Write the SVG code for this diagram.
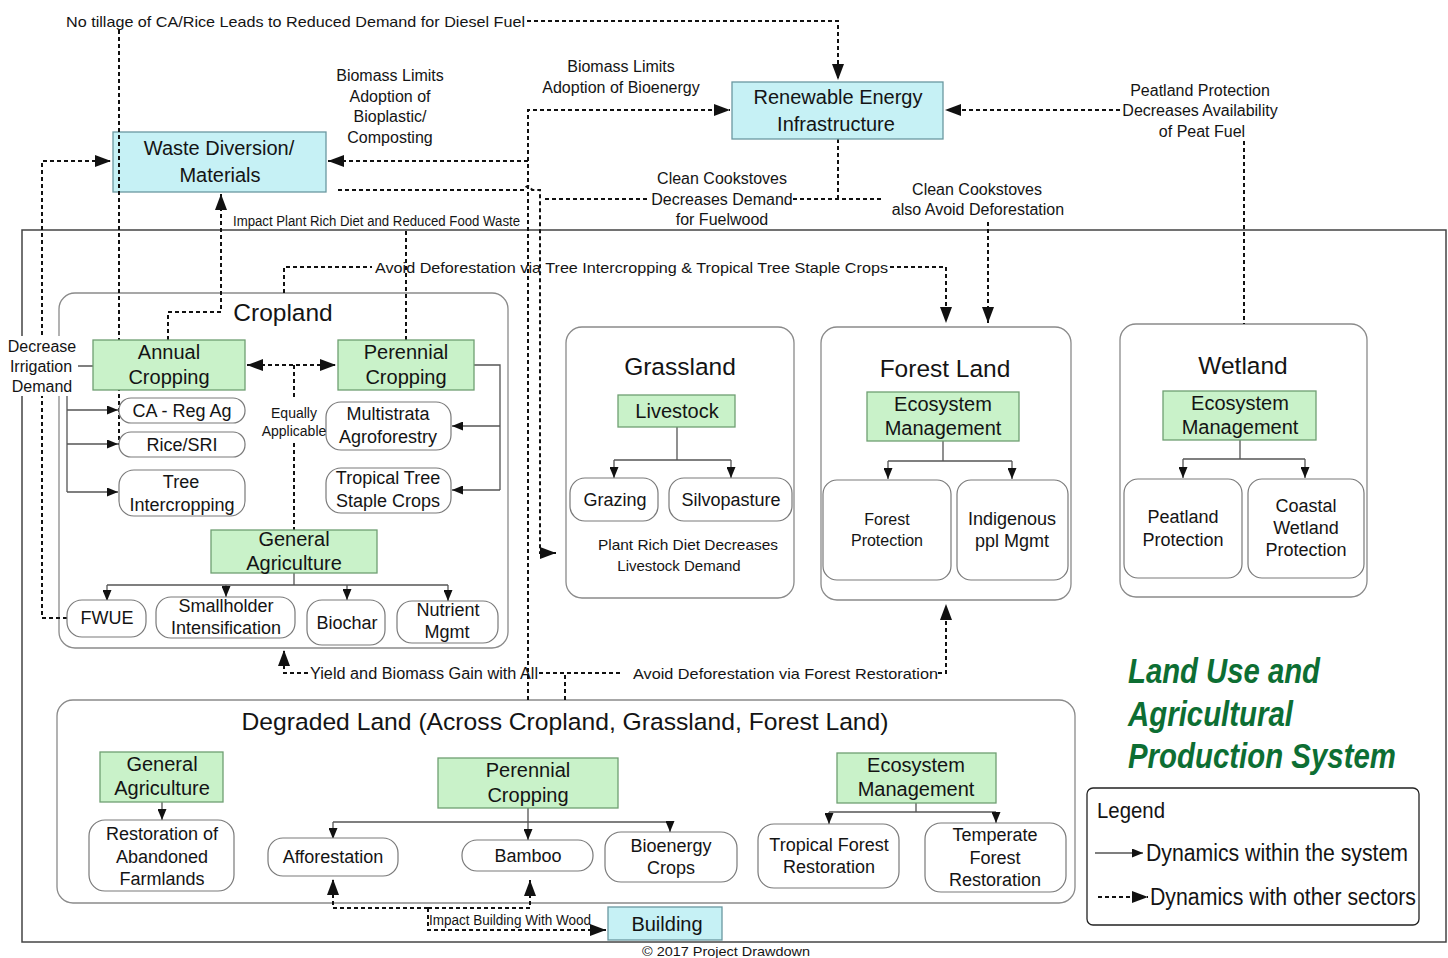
<svg xmlns="http://www.w3.org/2000/svg" width="1448" height="958" viewBox="0 0 1448 958">
<defs>
<style>
text{font-family:"Liberation Sans",Arial,sans-serif;fill:#141414;text-anchor:middle;dominant-baseline:central}
.l{text-anchor:start}
.dash{fill:none;stroke:#111;stroke-width:2;stroke-dasharray:4 3}
.solid{fill:none;stroke:#555;stroke-width:1.3}
.region{fill:none;stroke:#8a8a8a;stroke-width:1.3}
.pill{fill:#fff;stroke:#7a7a7a;stroke-width:1.2}
.green{fill:#c9f2c9;stroke:#6f9f72;stroke-width:1.3}
.cyan{fill:#c6f1f5;stroke:#6a98a0;stroke-width:1.3}
.t24{font-size:24.5px}
.t20{font-size:20px}
.t18{font-size:18px}
.t16{font-size:16px}
.t15{font-size:15px}
.t14{font-size:14px}
.title{font-size:35px;font-weight:bold;font-style:italic;fill:#0d6e33}
</style>
<marker id="ah" viewBox="0 0 16 12" refX="16" refY="6" markerWidth="16" markerHeight="12" orient="auto-start-reverse" markerUnits="userSpaceOnUse"><path d="M0,0 L16,6 L0,12 z" fill="#111"/></marker>
<marker id="as" viewBox="0 0 11 9" refX="11" refY="4.5" markerWidth="11" markerHeight="9" orient="auto" markerUnits="userSpaceOnUse"><path d="M0,0 L11,4.5 L0,9 z" fill="#111"/></marker>
</defs>
<rect width="1448" height="958" fill="#fff"/>

<!-- system boundary -->
<rect id="system-frame" x="22" y="230" width="1424" height="712" fill="none" stroke="#444" stroke-width="1.5"/>

<!-- land-type containers (outlines only, drawn under the links) -->
<g id="cropland">
  <rect class="region" x="59" y="293" width="449" height="355" rx="16"/>
  <text class="t24" x="283" y="312">Cropland</text>
</g>
<g id="grassland">
  <rect class="region" x="566" y="327" width="228" height="271" rx="16"/>
  <text class="t24" x="680" y="366">Grassland</text>
</g>
<g id="forest-land">
  <rect class="region" x="821" y="327" width="250" height="273" rx="16"/>
  <text class="t24" x="945" y="368">Forest Land</text>
</g>
<g id="wetland">
  <rect class="region" x="1120" y="324" width="247" height="273" rx="16"/>
  <text class="t24" x="1243" y="365">Wetland</text>
</g>
<g id="degraded-land">
  <rect class="region" x="57" y="700" width="1018" height="203" rx="16"/>
  <text class="t24" x="565" y="721" textLength="647" lengthAdjust="spacingAndGlyphs">Degraded Land (Across Cropland, Grassland, Forest Land)</text>
</g>

<!-- the diesel-fuel line runs across this box, so it sits underneath -->
<g id="waste-diversion">
  <rect class="cyan" x="113" y="132" width="213" height="60"/>
  <text class="t20" x="219" y="148">Waste Diversion/</text>
  <text class="t20" x="220" y="175">Materials</text>
</g>

<g id="connectors">
  <!-- links to other sectors -->
  <path class="dash" d="M527,21 H838 V80" marker-end="url(#ah)"/>
  <path class="dash" d="M119,30 V445"/>
  <path class="dash" d="M67,618 H42 V161 H111" marker-end="url(#ah)"/>
  <path class="dash" d="M528,700 V110 H730" marker-end="url(#ah)"/>
  <path class="dash" d="M528,161 H328" marker-end="url(#ah)"/>
  <path class="dash" d="M338,190 H524 Q528,182 532,190 H540 V553 H556" marker-end="url(#ah)"/>
  <path class="dash" d="M545,199 H650 M793,199 H882 M838,139 V199"/>
  <path class="dash" d="M988,222 V323" marker-end="url(#ah)"/>
  <path class="dash" d="M1120,110 H945" marker-end="url(#ah)"/>
  <path class="dash" d="M1244,141 V324"/>
  <path class="dash" d="M168,340 V312 H221 V194" marker-end="url(#ah)"/>
  <path class="dash" d="M406,340 V229"/>
  <path class="dash" d="M284,293 V267 H372 M890,267 H946 V323" marker-end="url(#ah)"/>
  <path class="dash" d="M247,365 H336" marker-start="url(#ah)" marker-end="url(#ah)"/>
  <path class="dash" d="M294,365 V400 M294,443 V530"/>
  <path class="dash" d="M565,700 V673 H538 M620,673 H538"/>
  <path class="dash" d="M308,673 H284 V650" marker-end="url(#ah)"/>
  <path class="dash" d="M938,673 H946 V604" marker-end="url(#ah)"/>
  <path class="dash" d="M428,908 H333 V879" marker-end="url(#ah)"/>
  <path class="dash" d="M428,908 H530 V880" marker-end="url(#ah)"/>
  <path class="dash" d="M428,908 V930 H606" marker-end="url(#ah)"/>

  <!-- links inside the system -->
  <path class="solid" d="M93,366 H67 V492"/>
  <path class="solid" d="M67,410 H118" marker-end="url(#as)"/>
  <path class="solid" d="M67,444 H118" marker-end="url(#as)"/>
  <path class="solid" d="M67,492 H118" marker-end="url(#as)"/>
  <path class="solid" d="M474,365 H500 V490"/>
  <path class="solid" d="M500,426 H452" marker-end="url(#as)"/>
  <path class="solid" d="M500,490 H452" marker-end="url(#as)"/>
  <path class="solid" d="M294,573 V585 M107,585 H448"/>
  <path class="solid" d="M107,585 V601" marker-end="url(#as)"/>
  <path class="solid" d="M226,585 V597" marker-end="url(#as)"/>
  <path class="solid" d="M347,585 V600" marker-end="url(#as)"/>
  <path class="solid" d="M448,585 V601" marker-end="url(#as)"/>
  <path class="solid" d="M677,427 V460 M614,460 H731"/>
  <path class="solid" d="M614,460 V478" marker-end="url(#as)"/>
  <path class="solid" d="M731,460 V478" marker-end="url(#as)"/>
  <path class="solid" d="M943,441 V461 M888,461 H1012"/>
  <path class="solid" d="M888,461 V479" marker-end="url(#as)"/>
  <path class="solid" d="M1012,461 V479" marker-end="url(#as)"/>
  <path class="solid" d="M1240,440 V459 M1183,459 H1305"/>
  <path class="solid" d="M1183,459 V478" marker-end="url(#as)"/>
  <path class="solid" d="M1305,459 V478" marker-end="url(#as)"/>
  <path class="solid" d="M162,802 V820" marker-end="url(#as)"/>
  <path class="solid" d="M528,808 V822 M333,822 H670"/>
  <path class="solid" d="M333,822 V839" marker-end="url(#as)"/>
  <path class="solid" d="M528,822 V840" marker-end="url(#as)"/>
  <path class="solid" d="M670,822 V832" marker-end="url(#as)"/>
  <path class="solid" d="M916,803 V812 M829,812 H996"/>
  <path class="solid" d="M829,812 V824" marker-end="url(#as)"/>
  <path class="solid" d="M996,812 V823" marker-end="url(#as)"/>
</g>

<g id="renewable-energy">
  <rect class="cyan" x="732" y="82" width="211" height="57"/>
  <text class="t20" x="838" y="97">Renewable Energy</text>
  <text class="t20" x="836" y="124">Infrastructure</text>
</g>

<g id="annual-cropping">
  <rect class="green" x="93" y="340" width="152" height="50"/>
  <text class="t20" x="169" y="352">Annual</text>
  <text class="t20" x="169" y="377">Cropping</text>
</g>
<g id="perennial-cropping">
  <rect class="green" x="338" y="340" width="136" height="50"/>
  <text class="t20" x="406" y="352">Perennial</text>
  <text class="t20" x="406" y="377">Cropping</text>
</g>
<g id="ca-reg-ag">
  <rect class="pill" x="119" y="398" width="126" height="25" rx="12"/>
  <text class="t18" x="182" y="411">CA - Reg Ag</text>
</g>
<g id="rice-sri">
  <rect class="pill" x="119" y="432" width="126" height="25" rx="12"/>
  <text class="t18" x="182" y="445">Rice/SRI</text>
</g>
<g id="tree-intercropping">
  <rect class="pill" x="119" y="470" width="126" height="46" rx="15"/>
  <text class="t18" x="181" y="482">Tree</text>
  <text class="t18" x="182" y="505">Intercropping</text>
</g>
<g id="multistrata-agroforestry">
  <rect class="pill" x="326" y="402" width="125" height="48" rx="15"/>
  <text class="t18" x="388" y="414">Multistrata</text>
  <text class="t18" x="388" y="437">Agroforestry</text>
</g>
<g id="tropical-tree-staple-crops">
  <rect class="pill" x="326" y="468" width="125" height="45" rx="15"/>
  <text class="t18" x="388" y="478">Tropical Tree</text>
  <text class="t18" x="388" y="501">Staple Crops</text>
</g>
<g id="general-agriculture">
  <rect class="green" x="211" y="530" width="166" height="43"/>
  <text class="t20" x="294" y="539">General</text>
  <text class="t20" x="294" y="563">Agriculture</text>
</g>
<g id="fwue">
  <rect class="pill" x="67" y="600" width="79" height="37" rx="15"/>
  <text class="t18" x="107" y="618">FWUE</text>
</g>
<g id="smallholder-intensification">
  <rect class="pill" x="156" y="597" width="139" height="41" rx="15"/>
  <text class="t18" x="226" y="606">Smallholder</text>
  <text class="t18" x="226" y="628">Intensification</text>
</g>
<g id="biochar">
  <rect class="pill" x="307" y="600" width="78" height="45" rx="15"/>
  <text class="t18" x="347" y="623">Biochar</text>
</g>
<g id="nutrient-mgmt">
  <rect class="pill" x="397" y="601" width="101" height="42" rx="15"/>
  <text class="t18" x="448" y="610">Nutrient</text>
  <text class="t18" x="447" y="632">Mgmt</text>
</g>

<g id="livestock">
  <rect class="green" x="618" y="395" width="117" height="32"/>
  <text class="t20" x="677" y="411">Livestock</text>
</g>
<g id="grazing">
  <rect class="pill" x="570" y="478" width="88" height="43" rx="15"/>
  <text class="t18" x="615" y="500">Grazing</text>
</g>
<g id="silvopasture">
  <rect class="pill" x="669" y="478" width="123" height="43" rx="15"/>
  <text class="t18" x="731" y="500">Silvopasture</text>
</g>

<g id="forest-ecosystem-management">
  <rect class="green" x="867" y="392" width="152" height="49"/>
  <text class="t20" x="943" y="404">Ecosystem</text>
  <text class="t20" x="943" y="428">Management</text>
</g>
<g id="forest-protection">
  <rect class="pill" x="823" y="480" width="128" height="100" rx="14"/>
  <text class="t16" x="887" y="519">Forest</text>
  <text class="t16" x="887" y="540">Protection</text>
</g>
<g id="indigenous-ppl-mgmt">
  <rect class="pill" x="957" y="480" width="111" height="100" rx="14"/>
  <text class="t18" x="1012" y="519">Indigenous</text>
  <text class="t18" x="1012" y="541">ppl Mgmt</text>
</g>

<g id="wetland-ecosystem-management">
  <rect class="green" x="1163" y="391" width="153" height="49"/>
  <text class="t20" x="1240" y="403">Ecosystem</text>
  <text class="t20" x="1240" y="427">Management</text>
</g>
<g id="peatland-protection">
  <rect class="pill" x="1124" y="479" width="118" height="99" rx="14"/>
  <text class="t18" x="1183" y="517">Peatland</text>
  <text class="t18" x="1183" y="540">Protection</text>
</g>
<g id="coastal-wetland-protection">
  <rect class="pill" x="1248" y="479" width="116" height="99" rx="14"/>
  <text class="t18" x="1306" y="506">Coastal</text>
  <text class="t18" x="1306" y="528">Wetland</text>
  <text class="t18" x="1306" y="550">Protection</text>
</g>

<g id="degraded-general-agriculture">
  <rect class="green" x="100" y="752" width="123" height="50"/>
  <text class="t20" x="162" y="764">General</text>
  <text class="t20" x="162" y="788">Agriculture</text>
</g>
<g id="restoration-abandoned-farmlands">
  <rect class="pill" x="89" y="820" width="145" height="71" rx="16"/>
  <text class="t18" x="162" y="834">Restoration of</text>
  <text class="t18" x="162" y="857">Abandoned</text>
  <text class="t18" x="162" y="879">Farmlands</text>
</g>
<g id="degraded-perennial-cropping">
  <rect class="green" x="438" y="758" width="180" height="50"/>
  <text class="t20" x="528" y="770">Perennial</text>
  <text class="t20" x="528" y="795">Cropping</text>
</g>
<g id="afforestation">
  <rect class="pill" x="268" y="838" width="130" height="38" rx="15"/>
  <text class="t18" x="333" y="857">Afforestation</text>
</g>
<g id="bamboo">
  <rect class="pill" x="462" y="840" width="131" height="31" rx="15"/>
  <text class="t18" x="528" y="856">Bamboo</text>
</g>
<g id="bioenergy-crops">
  <rect class="pill" x="605" y="832" width="132" height="50" rx="16"/>
  <text class="t18" x="671" y="846">Bioenergy</text>
  <text class="t18" x="671" y="868">Crops</text>
</g>
<g id="degraded-ecosystem-management">
  <rect class="green" x="837" y="753" width="159" height="50"/>
  <text class="t20" x="916" y="765">Ecosystem</text>
  <text class="t20" x="916" y="789">Management</text>
</g>
<g id="tropical-forest-restoration">
  <rect class="pill" x="758" y="824" width="141" height="64" rx="16"/>
  <text class="t18" x="829" y="845">Tropical Forest</text>
  <text class="t18" x="829" y="867">Restoration</text>
</g>
<g id="temperate-forest-restoration">
  <rect class="pill" x="925" y="823" width="141" height="69" rx="16"/>
  <text class="t18" x="995" y="835">Temperate</text>
  <text class="t18" x="995" y="858">Forest</text>
  <text class="t18" x="995" y="880">Restoration</text>
</g>

<g id="building">
  <rect class="cyan" x="608" y="907" width="114" height="33"/>
  <text class="t20" x="667" y="924">Building</text>
</g>

<g id="connector-labels">
  <text class="l t15" x="66" y="21" textLength="459" lengthAdjust="spacingAndGlyphs">No tillage of CA/Rice Leads to Reduced Demand for Diesel Fuel</text>
  <text class="t16" x="390" y="75">Biomass Limits</text>
  <text class="t16" x="390" y="96">Adoption of</text>
  <text class="t16" x="390" y="116">Bioplastic/</text>
  <text class="t16" x="390" y="137">Composting</text>
  <text class="t16" x="621" y="66">Biomass Limits</text>
  <text class="t16" x="621" y="87">Adoption of Bioenergy</text>
  <text class="t16" x="1200" y="90">Peatland Protection</text>
  <text class="t16" x="1200" y="110">Decreases Availability</text>
  <text class="t16" x="1202" y="131">of Peat Fuel</text>
  <text class="t16" x="722" y="178">Clean Cookstoves</text>
  <text class="t16" x="722" y="199">Decreases Demand</text>
  <text class="t16" x="722" y="219">for Fuelwood</text>
  <text class="t16" x="977" y="189">Clean Cookstoves</text>
  <text class="t16" x="978" y="209">also Avoid Deforestation</text>
  <text class="l t14" x="233" y="221" textLength="287" lengthAdjust="spacingAndGlyphs">Impact Plant Rich Diet and Reduced Food Waste</text>
  <text class="l t15" x="375" y="267" textLength="513" lengthAdjust="spacingAndGlyphs">Avoid Deforestation via Tree Intercropping &amp; Tropical Tree Staple Crops</text>
  <rect x="6" y="336" width="72" height="60" fill="#fff"/>
  <text class="t16" x="42" y="346">Decrease</text>
  <text class="t16" x="41" y="366">Irrigation</text>
  <text class="t16" x="42" y="386">Demand</text>
  <text class="t14" x="294" y="413">Equally</text>
  <text class="t14" x="294" y="431">Applicable</text>
  <text class="t15" x="688" y="544" textLength="180" lengthAdjust="spacingAndGlyphs">Plant Rich Diet Decreases</text>
  <text class="t15" x="679" y="565">Livestock Demand</text>
  <text class="l t16" x="310" y="673" textLength="228" lengthAdjust="spacingAndGlyphs">Yield and Biomass Gain with All</text>
  <text class="l t15" x="633" y="673" textLength="305" lengthAdjust="spacingAndGlyphs">Avoid Deforestation via Forest Restoration</text>
  <text class="l t14" x="429" y="920" textLength="162" lengthAdjust="spacingAndGlyphs">Impact Building With Wood</text>
</g>

<g id="system-title">
  <text class="l title" x="1128" y="670" textLength="192" lengthAdjust="spacingAndGlyphs">Land Use and</text>
  <text class="l title" x="1128" y="713" textLength="165" lengthAdjust="spacingAndGlyphs">Agricultural</text>
  <text class="l title" x="1128" y="755" textLength="268" lengthAdjust="spacingAndGlyphs">Production System</text>
</g>

<g id="legend">
  <rect x="1087" y="788" width="332" height="137" rx="6" fill="#fff" stroke="#222" stroke-width="1.3"/>
  <text class="l" x="1097" y="810" font-size="22" textLength="68" lengthAdjust="spacingAndGlyphs">Legend</text>
  <path class="solid" d="M1095,853 H1143" marker-end="url(#as)"/>
  <text class="l" x="1146" y="853" font-size="23" textLength="262" lengthAdjust="spacingAndGlyphs">Dynamics within the system</text>
  <path class="dash" d="M1098,897 H1148" marker-end="url(#ah)"/>
  <text class="l" x="1150" y="897" font-size="23" textLength="266" lengthAdjust="spacingAndGlyphs">Dynamics with other sectors</text>
</g>

<text x="726" y="951" font-size="13" textLength="168" lengthAdjust="spacingAndGlyphs">© 2017 Project Drawdown</text>
</svg>
